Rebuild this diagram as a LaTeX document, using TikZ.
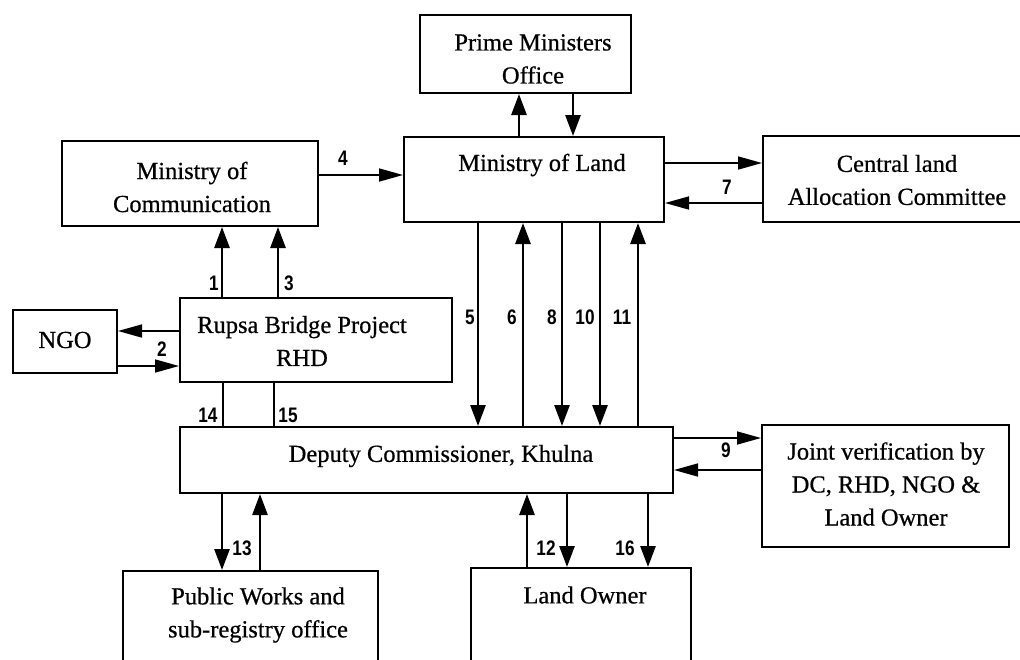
\documentclass[tikz,border=0pt]{standalone}
\usepackage{fontspec}
\setmainfont[FakeBold=0.6]{Liberation Serif}
\newfontfamily\numfont[FakeStretch=0.82]{Liberation Sans}
\usetikzlibrary{arrows.meta}
\tikzset{
  box/.style={draw, line width=2pt, inner sep=0pt},
  txt/.style={font=\fontsize{24.5}{33}\selectfont, align=center, inner sep=0pt},
  num/.style={font=\numfont\bfseries\fontsize{21}{21}\selectfont, inner sep=0pt},
  varr/.style={line width=2.8pt, -{Triangle[length=21pt,width=15pt]}},
  harr/.style={line width=1.6pt, -{Triangle[length=24pt,width=13pt]}},
  vline/.style={line width=2.8pt},
}
\begin{document}
\begin{tikzpicture}[x=1pt,y=-1pt]
\useasboundingbox (0,0) rectangle (1020,659);
\clip (0,0) rectangle (1020,659);
% boxes
\node[box, minimum width=211pt, minimum height=78pt] (pm) at (525.5,54) {};
\node[box, minimum width=260pt, minimum height=85pt] (ml) at (534,179.5) {};
\node[box, minimum width=272pt, minimum height=86pt] (clac) at (899,179) {};
\node[box, minimum width=256pt, minimum height=85pt] (moc) at (190,183.5) {};
\node[box, minimum width=272pt, minimum height=84pt] (rbp) at (316,340) {};
\node[box, minimum width=104pt, minimum height=63pt] (ngo) at (65,341.5) {};
\node[box, minimum width=493pt, minimum height=66pt] (dc) at (426.5,460) {};
\node[box, minimum width=247pt, minimum height=122pt] (jv) at (885.5,486) {};
\node[box, minimum width=255pt, minimum height=129pt] (pw) at (250.5,635.5) {};
\node[box, minimum width=220pt, minimum height=132pt] (lo) at (581,634) {};
% texts
\node[txt] (pmt) at (533,59) {Prime Ministers\\Office};
\node[txt] (mlt) at (542,165) {Ministry of Land};
\node[txt] (clact) at (897,180) {Central land\\Allocation Committee};
\node[txt] (moct) at (192,187) {Ministry of\\Communication};
\node[txt] (rbpt) at (302,341) {Rupsa Bridge Project\\RHD};
\node[txt] (ngot) at (65,340) {NGO};
\node[txt] (dct) at (441,456) {Deputy Commissioner, Khulna};
\node[txt] (jvt) at (886,484) {Joint verification by\\DC, RHD, NGO \&\\Land Owner};
\node[txt] (pwt) at (258,615) {Public Works and\\sub-registry office};
\node[txt] (lot) at (585,595) {Land Owner};
% PM <-> ML
\draw[varr] (519,0 |- ml.north) -- (519,0 |- pm.south);
\draw[varr] (573,0 |- pm.south) -- (573,0 |- ml.north);
% 4
\draw[harr] (moc.east |- 0,175) -- (ml.west |- 0,175);
% 7
\draw[harr] (ml.east |- 0,163) -- (clac.west |- 0,163);
\draw[harr] (clac.west |- 0,203) -- (ml.east |- 0,203);
% 1, 3
\draw[varr] (222,0 |- rbp.north) -- (222,0 |- moc.south);
\draw[varr] (278,0 |- rbp.north) -- (278,0 |- moc.south);
% 2
\draw[harr] (rbp.west |- 0,331) -- (ngo.east |- 0,331);
\draw[harr] (ngo.east |- 0,366) -- (rbp.west |- 0,366);
% 14, 15
\draw[vline] (223,0 |- rbp.south) -- (223,0 |- dc.north);
\draw[vline] (274,0 |- rbp.south) -- (274,0 |- dc.north);
% 5 6 8 10 11
\draw[varr] (478,0 |- ml.south) -- (478,0 |- dc.north);
\draw[varr] (523,0 |- dc.north) -- (523,0 |- ml.south);
\draw[varr] (562,0 |- ml.south) -- (562,0 |- dc.north);
\draw[varr] (600,0 |- ml.south) -- (600,0 |- dc.north);
\draw[varr] (638,0 |- dc.north) -- (638,0 |- ml.south);
% 9
\draw[harr] (dc.east |- 0,438) -- (jv.west |- 0,438);
\draw[harr] (jv.west |- 0,470) -- (dc.east |- 0,470);
% 13
\draw[varr] (222,0 |- dc.south) -- (222,0 |- pw.north);
\draw[varr] (260,0 |- pw.north) -- (260,0 |- dc.south);
% 12, 16
\draw[varr] (527,0 |- lo.north) -- (527,0 |- dc.south);
\draw[varr] (567,0 |- dc.south) -- (567,0 |- lo.north);
\draw[varr] (648,0 |- dc.south) -- (648,0 |- lo.north);
% labels
\node[num] (n1) at (214,283) {1};
\node[num] (n3) at (289,283) {3};
\node[num] (n4) at (343,158) {4};
\node[num] (n2) at (162,349) {2};
\node[num] (n14) at (208,415) {14};
\node[num] (n15) at (288,415) {15};
\node[num] (n5) at (470,317) {5};
\node[num] (n6) at (512,317) {6};
\node[num] (n8) at (552,317) {8};
\node[num] (n10) at (585,317) {10};
\node[num] (n11) at (622,317) {11};
\node[num] (n7) at (727,187) {7};
\node[num] (n9) at (726,450) {9};
\node[num] (n13) at (242,548) {13};
\node[num] (n12) at (546,548) {12};
\node[num] (n16) at (625,548) {16};
\end{tikzpicture}
\end{document}
